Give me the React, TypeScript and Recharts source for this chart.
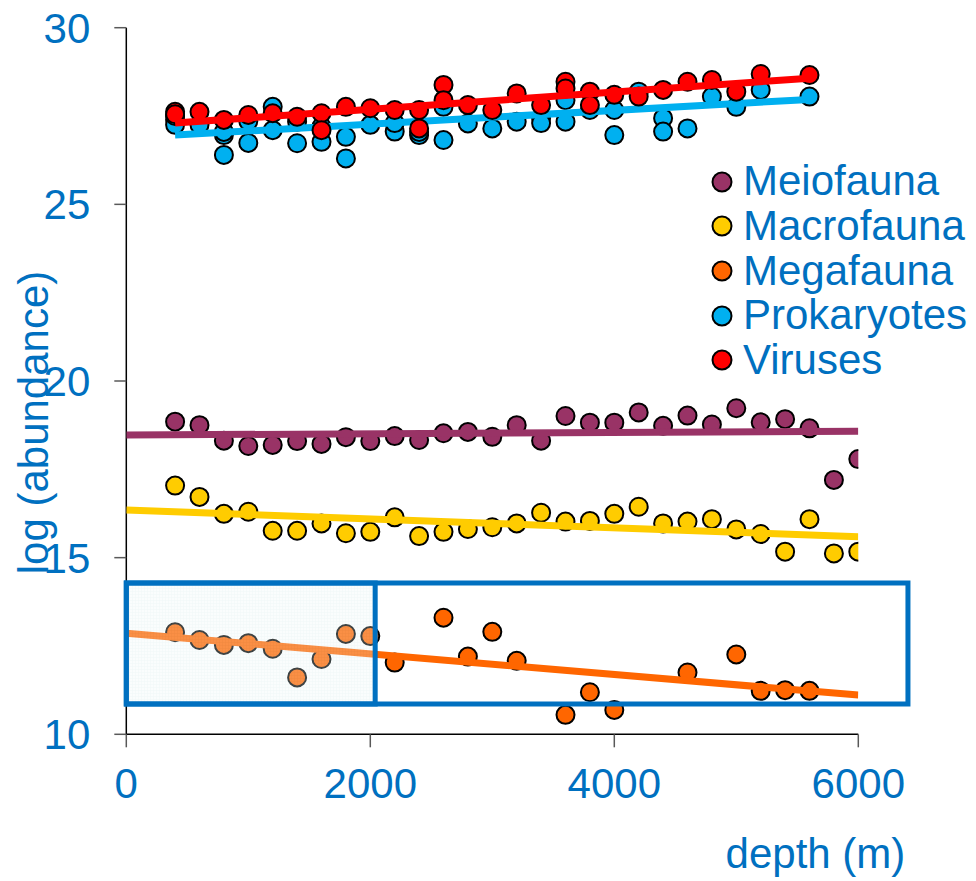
import React from 'react';
import { ComposedChart, Scatter, Line, XAxis, YAxis, ReferenceArea, Legend } from 'recharts';

const FONT = '"Liberation Sans", Arial, sans-serif';
const TEXT_BLUE = '#0070C0';

const xTicks = [0, 2000, 4000, 6000];
const yTicks = [10, 15, 20, 25, 30];
const legendOrder = ['Meiofauna', 'Macrofauna', 'Megafauna', 'Prokaryotes', 'Viruses'];

const meioDepth = [400, 600, 800, 1000, 1200, 1400, 1600, 1800, 2000, 2200, 2400, 2600, 2800, 3000, 3200, 3400, 3600, 3800, 4000, 4200, 4400, 4600, 4800, 5000, 5200, 5400, 5600, 5800, 6000];
const meioValues = [18.85, 18.75, 18.31, 18.16, 18.19, 18.30, 18.22, 18.41, 18.30, 18.44, 18.33, 18.52, 18.56, 18.42, 18.75, 18.31, 19.01, 18.82, 18.82, 19.11, 18.73, 19.02, 18.77, 19.23, 18.83, 18.92, 18.66, 17.20, 17.79];

const macroDepth = [400, 600, 800, 1000, 1200, 1400, 1600, 1800, 2000, 2200, 2400, 2600, 2800, 3000, 3200, 3400, 3600, 3800, 4000, 4200, 4400, 4600, 4800, 5000, 5200, 5400, 5600, 5800, 6000];
const macroValues = [17.04, 16.72, 16.24, 16.30, 15.76, 15.76, 15.97, 15.69, 15.73, 16.14, 15.61, 15.73, 15.81, 15.86, 15.97, 16.27, 16.02, 16.04, 16.24, 16.44, 15.97, 16.02, 16.09, 15.80, 15.67, 15.17, 16.09, 15.12, 15.17];

const megaDepth = [400, 600, 800, 1000, 1200, 1400, 1600, 1800, 2000, 2200, 2600, 2800, 3000, 3200, 3600, 3800, 4000, 4600, 5000, 5200, 5400, 5600];
const megaValues = [12.89, 12.67, 12.53, 12.58, 12.42, 11.61, 12.13, 12.84, 12.78, 12.03, 13.30, 12.20, 12.90, 12.08, 10.55, 11.19, 10.69, 11.75, 12.26, 11.23, 11.25, 11.23];

const prokDepth = [400, 400, 400, 600, 800, 800, 800, 1000, 1000, 1200, 1200, 1400, 1400, 1600, 1600, 1800, 1800, 2000, 2200, 2200, 2400, 2400, 2600, 2600, 2800, 3000, 3200, 3400, 3400, 3600, 3600, 3800, 4000, 4000, 4200, 4400, 4400, 4600, 4800, 5000, 5200, 5600];
const prokValues = [27.39, 27.25, 27.50, 27.25, 26.96, 27.05, 26.40, 26.74, 27.35, 27.76, 27.10, 27.34, 26.73, 27.20, 26.77, 26.91, 26.30, 27.25, 27.06, 27.30, 26.96, 27.05, 26.82, 27.76, 27.29, 27.15, 27.34, 27.44, 27.30, 27.34, 27.95, 27.67, 27.67, 26.96, 28.19, 27.44, 27.06, 27.15, 28.05, 27.76, 28.24, 28.05];

const virusDepth = [400, 400, 600, 800, 1000, 1200, 1400, 1600, 1600, 1800, 2000, 2200, 2400, 2400, 2600, 2600, 2800, 3000, 3200, 3400, 3600, 3600, 3800, 3800, 4000, 4200, 4400, 4600, 4800, 5000, 5200, 5600];
const virusValues = [27.62, 27.55, 27.62, 27.39, 27.53, 27.58, 27.48, 27.58, 27.10, 27.76, 27.72, 27.67, 27.67, 27.15, 28.38, 27.95, 27.81, 27.67, 28.14, 27.81, 28.47, 28.28, 28.19, 27.81, 28.10, 28.05, 28.24, 28.47, 28.52, 28.19, 28.69, 28.66];

// trend line end points
const meioTrendX = [0, 6000];
const meioTrendY = [18.47, 18.58];
const macroTrendX = [0, 6000];
const macroTrendY = [16.35, 15.59];
const megaTrendX = [0, 6000];
const megaTrendY = [12.86, 11.11];
const prokTrendX = [400, 5600];
const prokTrendY = [26.96, 27.97];
const virusTrendX = [400, 5600];
const virusTrendY = [27.30, 28.57];

// highlighted boxes (depth range, log abundance range)
const boxOuterX = [0, 6407];
const boxInnerX = [0, 2040];
const boxY = [10.86, 14.28];

const COLORS = {
  meio: '#993366',
  macro: '#FFCC00',
  mega: '#FF6600',
  prok: '#00B0F0',
  virus: '#FF0000',
};

const zip = (xs: number[], ys: number[]) => xs.map((x, i) => ({ x, y: ys[i] }));

const meioData = zip(meioDepth, meioValues);
const macroData = zip(macroDepth, macroValues);
const megaData = zip(megaDepth, megaValues);
const prokData = zip(prokDepth, prokValues);
const virusData = zip(virusDepth, virusValues);

const dot = (fill: string) => (props: any) => {
  const { cx, cy } = props;
  if (cx == null || cy == null) return <g />;
  return <circle cx={cx} cy={cy} r={9} fill={fill} stroke="#000" strokeWidth={2} />;
};

const LegendContent = (props: any) => {
  const items = (props.payload || [])
    .filter((p: any) => p.type !== 'none' && legendOrder.indexOf(p.value) >= 0)
    .slice()
    .sort((a: any, b: any) => legendOrder.indexOf(a.value) - legendOrder.indexOf(b.value));
  return (
    <div style={{ fontFamily: FONT, fontSize: 42, color: TEXT_BLUE }}>
      {items.map((it: any) => (
        <div key={it.value} style={{ display: 'flex', alignItems: 'center', height: 44.7, whiteSpace: 'nowrap' }}>
          <svg width={22} height={22} style={{ marginRight: 10, flex: 'none' }}>
            <circle cx={11} cy={11} r={9.5} fill={it.color} stroke="#000" strokeWidth={2} />
          </svg>
          <span style={{ lineHeight: '44.7px' }}>{it.value}</span>
        </div>
      ))}
    </div>
  );
};

const XLabel = (props: any) => {
  const vb = props.viewBox || {};
  return (
    <text x={vb.x + vb.width + 47} y={vb.y + 133.7} textAnchor="end" fill={TEXT_BLUE} fontSize={42} fontFamily={FONT}>
      depth (m)
    </text>
  );
};

const YLabel = () => {
  const cx = 48;
  const cy = 422.5;
  return (
    <text x={cx} y={cy} textAnchor="middle" transform={`rotate(-90, ${cx}, ${cy})`} fill={TEXT_BLUE} fontSize={42} fontFamily={FONT}>
      log (abundance)
    </text>
  );
};

const z = (n: number) => ({ zIndex: n } as any);

export default function App() {
  const tickStyle = { fill: TEXT_BLUE, fontSize: 42, fontFamily: FONT };
  return (
    <div style={{ position: 'absolute', left: 0, top: 0, width: 976, height: 881, overflow: 'hidden', background: '#fff' }}>
      <ComposedChart width={976} height={881} margin={{ top: 27.7, right: 117.7, bottom: 0, left: 0 }}>
        <defs>
          <pattern id="gridHatch" width="3" height="3" patternUnits="userSpaceOnUse">
            <rect width="3" height="3" fill="#eef8f8" />
            <path d="M0 0H3M0 0V3" stroke="#c6e3e3" strokeWidth="1" />
          </pattern>
        </defs>
        <XAxis
          type="number"
          dataKey="x"
          domain={[0, 6000]}
          ticks={xTicks}
          allowDataOverflow
          height={146.7}
          tick={tickStyle}
          tickSize={13}
          tickMargin={21}
          tickLine={{ stroke: '#595959', strokeWidth: 1.5 }}
          axisLine={{ stroke: '#000', strokeWidth: 1.5 }}
          label={<XLabel />}
        />
        <YAxis
          type="number"
          dataKey="y"
          domain={[10, 30]}
          ticks={yTicks}
          allowDataOverflow
          width={126.3}
          tick={tickStyle}
          tickSize={12}
          tickMargin={24}
          tickLine={{ stroke: '#595959', strokeWidth: 1.5 }}
          axisLine={{ stroke: '#000', strokeWidth: 1.5 }}
          label={<YLabel />}
        />
        <Legend
          layout="vertical"
          align="center"
          verticalAlign="middle"
          itemSorter={null as any}
          content={<LegendContent />}
          wrapperStyle={{ left: 711, top: 159.3, width: 265 }}
        />
        <Scatter name="Meiofauna" data={meioData} fill={COLORS.meio} shape={dot(COLORS.meio)} isAnimationActive={false} {...z(601)} />
        <Line data={zip(meioTrendX, meioTrendY)} dataKey="y" stroke={COLORS.meio} strokeWidth={7} dot={false} activeDot={false} legendType="none" isAnimationActive={false} {...z(602)} />
        <Scatter name="Macrofauna" data={macroData} fill={COLORS.macro} shape={dot(COLORS.macro)} isAnimationActive={false} {...z(603)} />
        <Line data={zip(macroTrendX, macroTrendY)} dataKey="y" stroke={COLORS.macro} strokeWidth={7} dot={false} activeDot={false} legendType="none" isAnimationActive={false} {...z(604)} />
        <Scatter name="Megafauna" data={megaData} fill={COLORS.mega} shape={dot(COLORS.mega)} isAnimationActive={false} {...z(605)} />
        <Line data={zip(megaTrendX, megaTrendY)} dataKey="y" stroke={COLORS.mega} strokeWidth={7} dot={false} activeDot={false} legendType="none" isAnimationActive={false} {...z(606)} />
        <Scatter name="Prokaryotes" data={prokData} fill={COLORS.prok} shape={dot(COLORS.prok)} isAnimationActive={false} {...z(607)} />
        <Line data={zip(prokTrendX, prokTrendY)} dataKey="y" stroke={COLORS.prok} strokeWidth={7} dot={false} activeDot={false} legendType="none" isAnimationActive={false} {...z(608)} />
        <Scatter name="Viruses" data={virusData} fill={COLORS.virus} shape={dot(COLORS.virus)} isAnimationActive={false} {...z(609)} />
        <Line data={zip(virusTrendX, virusTrendY)} dataKey="y" stroke={COLORS.virus} strokeWidth={7} dot={false} activeDot={false} legendType="none" isAnimationActive={false} {...z(610)} />
        <ReferenceArea
          x1={boxInnerX[0]}
          x2={boxInnerX[1]}
          y1={boxY[0]}
          y2={boxY[1]}
          ifOverflow="visible"
          fill="url(#gridHatch)"
          fillOpacity={0.28}
          stroke={TEXT_BLUE}
          strokeWidth={5}
          strokeOpacity={1}
          {...z(900)}
        />
        <ReferenceArea
          x1={boxOuterX[0]}
          x2={boxOuterX[1]}
          y1={boxY[0]}
          y2={boxY[1]}
          ifOverflow="visible"
          fill="none"
          stroke={TEXT_BLUE}
          strokeWidth={5}
          strokeOpacity={1}
          {...z(901)}
        />
      </ComposedChart>
    </div>
  );
}
